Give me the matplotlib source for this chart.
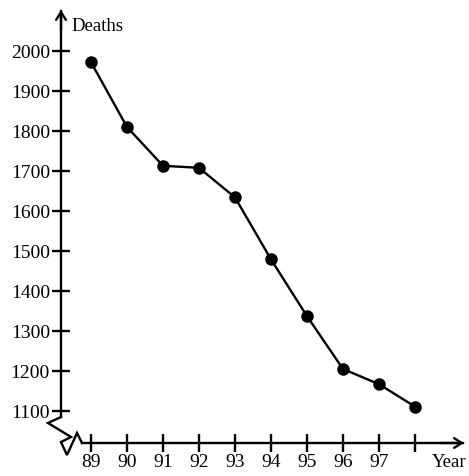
import matplotlib.pyplot as plt
import numpy as np

plt.rcParams["font.family"] = ["Liberation Serif", "DejaVu Serif"]

years = [89, 90, 91, 92, 93, 94, 95, 96, 97, 98]
deaths = [1972, 1810, 1713, 1708, 1634, 1479, 1337, 1205, 1167, 1111]
year_ticks = [89, 90, 91, 92, 93, 94, 95, 96, 97, 98]
year_labels = ["89", "90", "91", "92", "93", "94", "95", "96", "97", ""]
death_ticks = [1100, 1200, 1300, 1400, 1500, 1600, 1700, 1800, 1900, 2000]

W, H = 469, 476
fig = plt.figure(figsize=(W / 100, H / 100), dpi=100)
ax = fig.add_axes([0, 0, 1, 1])

# pixel layout: 89 at x=91, 36 px per year; 1100 at y=411, 0.4 px per death
px_per_year, x0 = 36.0, 91.0
px_per_death, y0 = 0.4, 411.0
ax.set_xlim(89 - x0 / px_per_year, 89 + (W - x0) / px_per_year)
ax.set_ylim(1100 - (H - y0) / px_per_death, 1100 + y0 / px_per_death)


def px(x, y):
    """pixel (from top-left) -> data coords"""
    return (89 + (x - x0) / px_per_year, 1100 + (y0 - y) / px_per_death)


yaxis_x = px(61, 0)[0]
xaxis_y = px(0, 443)[1]

for s in ["top", "right"]:
    ax.spines[s].set_visible(False)
ax.spines["left"].set_position(("data", yaxis_x))
ax.spines["bottom"].set_position(("data", xaxis_y))
ax.spines["left"].set_bounds(px(0, 417)[1], px(0, 11)[1])
ax.spines["bottom"].set_bounds(px(82, 0)[0], px(463, 0)[0])
for s in ["left", "bottom"]:
    ax.spines[s].set_linewidth(1.7)

ax.set_xticks(year_ticks)
ax.set_xticklabels(year_labels)
ax.set_yticks(death_ticks)
ax.tick_params(direction="inout", length=13, width=1.7, labelsize=14,
               pad=1.5)

# arrow heads
ax.annotate("", xy=px(61, 10), xytext=px(61, 30),
            arrowprops=dict(arrowstyle="->,head_length=0.55,head_width=0.35",
                            lw=1.7, color="black", shrinkA=0, shrinkB=0))
ax.annotate("", xy=px(464, 443), xytext=px(440, 443),
            arrowprops=dict(arrowstyle="->,head_length=0.55,head_width=0.35",
                            lw=1.7, color="black", shrinkA=0, shrinkB=0))

# axis break zig-zag
brk = np.array([px(*p) for p in [(61, 417), (48, 423), (71, 437), (61, 442),
                                  (67, 455), (77, 433), (82, 443)]])
ax.plot(brk[:, 0], brk[:, 1], color="black", lw=1.7, solid_joinstyle="miter")

ax.plot(years, deaths, "-o", color="black", lw=1.7, ms=8)

ax.text(*px(71, 26), "Deaths", fontsize=13.5, ha="left", va="center")
ax.text(*px(466, 462), "Year", fontsize=13.5, ha="right", va="center")

fig.savefig("out.png", dpi=100)
